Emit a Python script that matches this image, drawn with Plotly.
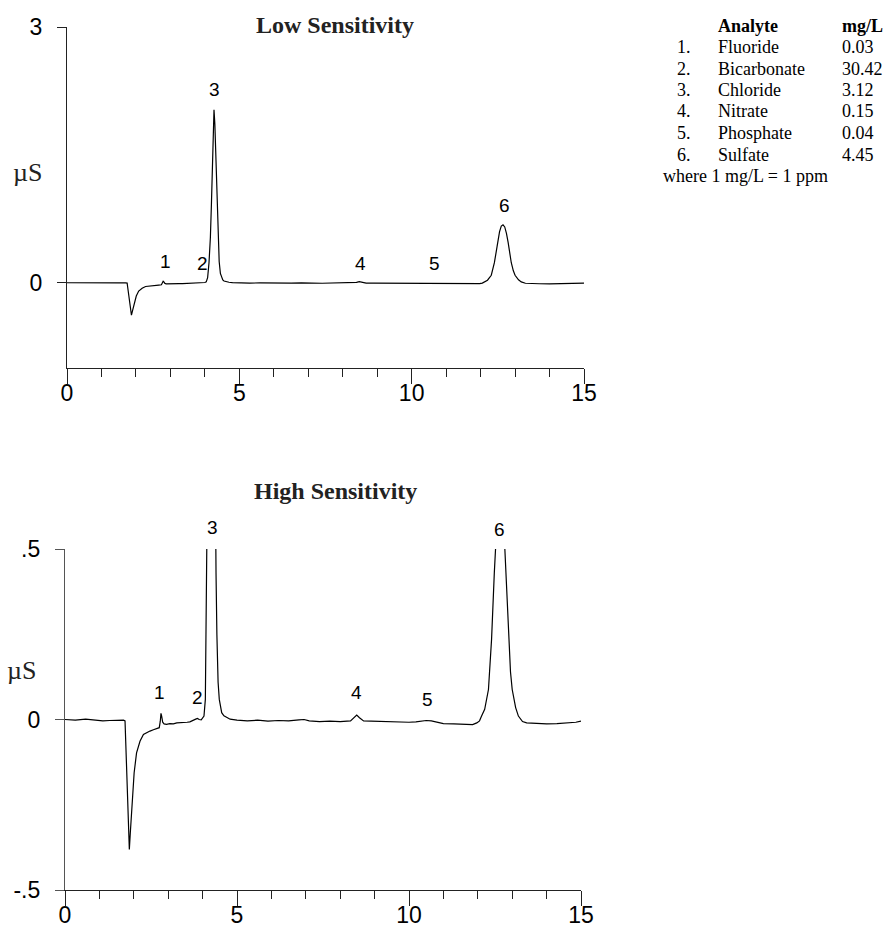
import plotly.graph_objects as go

# Ion chromatogram: retention time (min) vs. conductivity (µS)
time_min = [
    0.00, 0.30, 0.60, 0.90, 1.10, 1.30, 1.50, 1.70, 1.745, 1.76, 1.79, 1.83, 1.87, 1.90,
    1.94, 2.01, 2.08, 2.18, 2.28, 2.37, 2.47, 2.57, 2.66, 2.74, 2.77, 2.79, 2.81, 2.84,
    2.88, 2.95, 3.05, 3.15, 3.25, 3.35, 3.45, 3.55, 3.63, 3.72, 3.80, 3.85, 3.90, 3.96,
    4.00, 4.04, 4.08, 4.12, 4.16, 4.19, 4.215, 4.24, 4.265, 4.29, 4.315, 4.34, 4.365,
    4.39, 4.415, 4.45, 4.485, 4.52, 4.555, 4.62, 4.70, 4.80, 5.00, 5.30, 5.60, 5.90,
    6.20, 6.50, 6.80, 6.95, 7.10, 7.40, 7.70, 8.00, 8.30, 8.40, 8.48, 8.56, 8.68, 8.90,
    9.20, 9.50, 9.80, 10.00, 10.20, 10.35, 10.50, 10.65, 10.80, 11.00, 11.30, 11.60,
    11.85, 11.97, 12.05, 12.11, 12.20, 12.31, 12.40, 12.48, 12.55, 12.60, 12.65, 12.70,
    12.75, 12.80, 12.89, 12.95, 13.00, 13.10, 13.18, 13.30, 13.42, 13.70, 14.00, 14.30,
    14.60, 14.85, 15.00,
]
conductivity_us = [
    0.000, -0.002, 0.001, -0.001, -0.004, -0.003, -0.002, -0.002, -0.004, -0.050, -0.140,
    -0.290, -0.381, -0.330, -0.264, -0.156, -0.098, -0.064, -0.044, -0.038, -0.034,
    -0.030, -0.027, -0.024, -0.005, 0.018, 0.010, -0.008, -0.013, -0.014, -0.012, -0.013,
    -0.010, -0.010, -0.008, -0.008, -0.007, -0.004, 0.001, 0.003, 0.000, -0.001, 0.003,
    0.010, 0.059, 0.235, 0.53, 0.92, 1.35, 1.80, 2.03, 1.86, 1.48, 1.08, 0.70, 0.43, 0.25,
    0.11, 0.059, 0.033, 0.020, 0.011, 0.006, 0.001, -0.002, -0.004, -0.002, -0.005,
    -0.003, -0.004, -0.001, 0.000, -0.004, -0.006, -0.005, -0.006, -0.004, 0.004, 0.013,
    0.005, -0.004, -0.005, -0.006, -0.007, -0.008, -0.008, -0.007, -0.004, -0.003,
    -0.004, -0.008, -0.012, -0.013, -0.014, -0.015, -0.010, -0.004, 0.010, 0.030, 0.088,
    0.235, 0.43, 0.60, 0.665, 0.68, 0.655, 0.58, 0.47, 0.235, 0.14, 0.088, 0.035, 0.010,
    -0.006, -0.010, -0.012, -0.013, -0.012, -0.010, -0.008, -0.005,
]

# Peak numbers and where they are printed in each panel
peak_labels = ["1", "2", "3", "4", "5", "6"]
low_label_t = [2.85, 3.92, 4.27, 8.52, 10.67, 12.68]
low_label_y = [0.25, 0.23, 2.27, 0.23, 0.23, 0.91]
high_label_t = [2.74, 3.85, 4.29, 8.46, 10.54, 12.63]
high_label_y = [0.078, 0.064, 0.562, 0.078, 0.059, 0.557]

# Analyte table
analyte_nums = ["1.", "2.", "3.", "4.", "5.", "6."]
analyte_names = ["Fluoride", "Bicarbonate", "Chloride", "Nitrate", "Phosphate", "Sulfate"]
analyte_mg_l = ["0.03", "30.42", "3.12", "0.15", "0.04", "4.45"]

W, H = 885, 933
SANS = "Liberation Sans, Arial, sans-serif"
SERIF = "Liberation Serif, Times New Roman, serif"

LOW_RANGE = [-1, 3]
HIGH_RANGE = [-0.5, 0.5]


def px_x(p):
    return p / W


def px_y(p):
    return 1 - p / H


fig = go.Figure()
line = dict(color="black", width=1.2)
fig.add_trace(go.Scatter(x=time_min, y=conductivity_us, mode="lines", line=line,
                         xaxis="x", yaxis="y", showlegend=False, hoverinfo="skip"))
fig.add_trace(go.Scatter(x=time_min, y=conductivity_us, mode="lines", line=line,
                         xaxis="x2", yaxis="y2", showlegend=False, hoverinfo="skip"))


def xaxis_cfg(domain, anchor):
    return dict(
        domain=domain, anchor=anchor, range=[0, 15], tickvals=[0, 5, 10, 15],
        ticktext=["0", "5", "10", "15"], ticks="outside", ticklen=15, tickwidth=1,
        tickcolor="#222", showline=True, linecolor="#222", linewidth=1.2,
        showgrid=False, zeroline=False, automargin=False, ticklabelstandoff=-11,
        tickfont=dict(family=SANS, size=23, color="black"),
        minor=dict(dtick=1, tick0=0, ticks="outside", ticklen=8, tickcolor="#222",
                   tickwidth=1, showgrid=False),
        fixedrange=True,
    )


def yaxis_cfg(domain, anchor, rng, vals, text, color):
    return dict(
        domain=domain, anchor=anchor, range=rng, tickvals=vals, ticktext=text,
        ticks="outside", ticklen=9, tickwidth=1, tickcolor=color, showline=True,
        linecolor=color, linewidth=1.2, showgrid=False, zeroline=False, automargin=False,
        tickfont=dict(family=SANS, size=23, color="black"), ticklabelstandoff=10,
        fixedrange=True,
    )


fig.update_layout(
    width=W, height=H, margin=dict(l=0, r=0, t=0, b=0, autoexpand=False),
    paper_bgcolor="white", plot_bgcolor="white",
    xaxis=xaxis_cfg([px_x(67), px_x(584)], "y"),
    yaxis=yaxis_cfg([px_y(368), px_y(27)], "x", LOW_RANGE, [0, 3], ["0", "3"], "#222"),
    xaxis2=xaxis_cfg([px_x(65), px_x(581)], "y2"),
    yaxis2=yaxis_cfg([px_y(890), px_y(549)], "x2", HIGH_RANGE, [-0.5, 0, 0.5],
                     ["-.5", "0", ".5"], "#555"),
)

ann = []
for lab, t, v in zip(peak_labels, low_label_t, low_label_y):
    ann.append(dict(x=t, y=v, xref="x", yref="y", text=lab, showarrow=False,
                    xanchor="center", yanchor="middle",
                    font=dict(family=SANS, size=19, color="black")))
# The high-sensitivity labels for the off-scale peaks sit above the axis range,
# so they are positioned relative to the y2 domain instead of its data range.
for lab, t, v in zip(peak_labels, high_label_t, high_label_y):
    frac = (v - HIGH_RANGE[0]) / (HIGH_RANGE[1] - HIGH_RANGE[0])
    ann.append(dict(x=t, y=frac, xref="x2", yref="y2 domain", text=lab, showarrow=False,
                    xanchor="center", yanchor="middle",
                    font=dict(family=SANS, size=19, color="black")))


def paper_text(x, y, text, size, anchor="center", color="#222"):
    return dict(x=px_x(x), y=px_y(y), xref="paper", yref="paper", text=text,
                xanchor=anchor, yanchor="middle", showarrow=False, borderpad=0,
                font=dict(family=SERIF, size=size, color=color))


# Panel titles and y-axis unit labels
ann.append(paper_text(335, 25, "<b>Low Sensitivity</b>", 24))
ann.append(paper_text(335, 491, "<b>High Sensitivity</b>", 24))
ann.append(paper_text(27, 173, "µS", 26))
ann.append(paper_text(21, 670, "µS", 26))

# Analyte table
TS = 18
ann.append(paper_text(717, 26, "<b>Analyte</b>", TS, "left", "black"))
ann.append(paper_text(841, 26, "<b>mg/L</b>", TS, "left", "black"))
row_y = [47, 68.5, 90, 111.5, 133, 154.5]
for num, name, val, ry in zip(analyte_nums, analyte_names, analyte_mg_l, row_y):
    ann.append(paper_text(676, ry, num, TS, "left", "black"))
    ann.append(paper_text(717, ry, name, TS, "left", "black"))
    ann.append(paper_text(841, ry, val, TS, "left", "black"))
ann.append(paper_text(662, 176.5, "where 1 mg/L = 1 ppm", TS, "left", "black"))

fig.update_layout(annotations=ann)
fig.write_html("out.html")
